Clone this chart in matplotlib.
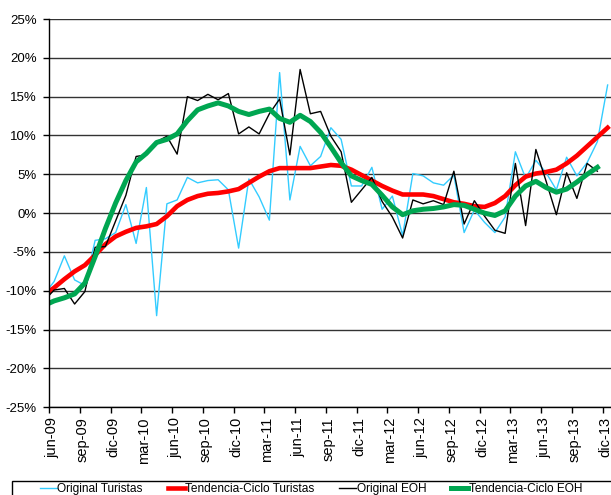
import numpy as np
import matplotlib.pyplot as plt
import matplotlib.transforms as mtransforms
from matplotlib.patches import Rectangle

plt.rcParams['font.family'] = ['Liberation Sans', 'DejaVu Sans']

tick_labels = ['jun-09', 'sep-09', 'dic-09', 'mar-10', 'jun-10', 'sep-10', 'dic-10',
               'mar-11', 'jun-11', 'sep-11', 'dic-11', 'mar-12', 'jun-12', 'sep-12',
               'dic-12', 'mar-13', 'jun-13', 'sep-13', 'dic-13']

# monthly year-on-year rates (%), first value is the month before jun-09
orig_turistas = [-10.5, -8.8, -5.5, -8.6, -9.3, -3.5, -3.3, -2.5, 1.1, -3.9, 3.3, -13.2,
                 1.2, 1.7, 4.6, 3.9, 4.2, 4.3, 3.0, -4.5, 4.4, 2.1, -0.9, 18.1, 1.7,
                 8.6, 6.1, 7.3, 11.0, 9.5, 3.5, 3.5, 5.9, 0.5, 2.2, -2.9, 5.1, 4.8, 3.9,
                 3.6, 4.9, -2.5, 0.4, -1.2, -2.5, -0.5, 7.9, 4.5, 6.8, 5.2, 3.0, 7.2,
                 4.8, 6.5, 9.2, 16.5]
tend_turistas = [-10.6, -9.6, -8.5, -7.5, -6.7, -5.4, -4.0, -3.0, -2.4, -1.9, -1.7, -1.4,
                 -0.4, 0.9, 1.7, 2.2, 2.5, 2.6, 2.8, 3.1, 3.9, 4.7, 5.4, 5.8, 5.8, 5.8,
                 5.8, 6.0, 6.2, 6.1, 5.6, 4.9, 4.2, 3.5, 2.9, 2.4, 2.4, 2.4, 2.2, 1.8,
                 1.4, 1.2, 0.9, 0.8, 1.3, 2.2, 3.6, 4.7, 5.1, 5.3, 5.6, 6.4, 7.4, 8.6,
                 9.8, 11.0]
orig_eoh = [-11.3, -9.9, -9.7, -11.7, -10.1, -4.4, -4.3, -1.0, 2.3, 7.3, 7.5, 9.2, 9.9,
            7.6, 15.0, 14.5, 15.3, 14.6, 15.4, 10.2, 11.1, 10.2, 12.8, 14.7, 7.5, 18.5,
            12.8, 13.1, 9.9, 7.9, 1.4, 3.0, 4.6, 1.5, -0.5, -3.2, 1.7, 1.2, 1.6, 1.1,
            5.4, -1.4, 1.6, -0.4, -2.2, -2.6, 6.4, -1.6, 8.2, 4.1, -0.2, 5.2, 1.9, 6.4,
            5.4]
tend_eoh = [-11.9, -11.3, -10.9, -10.4, -9.0, -5.6, -2.0, 1.3, 4.2, 6.6, 7.7, 9.1, 9.5,
            10.2, 11.9, 13.3, 13.8, 14.2, 13.8, 13.1, 12.7, 13.1, 13.4, 12.2, 11.7, 12.6,
            11.8, 10.4, 8.5, 6.5, 4.8, 4.2, 3.7, 2.3, 0.8, -0.2, 0.3, 0.5, 0.6, 0.8,
            1.1, 1.0, 0.5, 0.0, -0.3, 0.3, 2.2, 3.5, 4.1, 3.3, 2.7, 3.1, 4.0, 5.0, 5.9]

x_tur = np.arange(len(orig_turistas)) - 0.5
x_eoh = np.arange(len(orig_eoh)) - 0.5

fig = plt.figure(figsize=(6.11, 4.95), dpi=100)
ax = fig.add_axes([49/611, (495-407.3)/495, (623-49)/611, (407.3-19)/495])

l1, = ax.plot(x_tur, orig_turistas, color='#33CCFF', lw=1.0, label='Original Turistas')
l2, = ax.plot(x_tur, tend_turistas, color='#FF0000', lw=3.3, label='Tendencia-Ciclo Turistas')
l3, = ax.plot(x_eoh, orig_eoh, color='black', lw=1.0, label='Original EOH')
l4, = ax.plot(x_eoh, tend_eoh, color='#00A651', lw=3.6, label='Tendencia-Ciclo EOH')

ax.set_xlim(0, 56)
ax.set_ylim(-25, 25)
yt = np.arange(-25, 26, 5)
ax.set_yticks(yt)
ax.set_yticklabels([f'{v}%' for v in yt], fontsize=9.5)
ax.set_xticks(np.arange(0, 55, 3))
ax.set_xticklabels(tick_labels, rotation=90, fontsize=10.5)
ax.tick_params(axis='both', direction='out', length=4, width=1, color='black')
ax.tick_params(axis='y', pad=5)
ax.tick_params(axis='x', pad=3)
off = mtransforms.ScaledTranslation(3/100, 0, fig.dpi_scale_trans)
for lab in ax.get_xticklabels():
    lab.set_transform(lab.get_transform() + off)

ax.yaxis.grid(True, color='#333333', lw=1)
ax.set_axisbelow(True)
for s in ['top', 'right']:
    ax.spines[s].set_visible(False)
for s in ['left', 'bottom']:
    ax.spines[s].set_color('black')
    ax.spines[s].set_linewidth(1)

fig.add_artist(Rectangle((12/611, -0.1), 1.2, (495-481)/495 + 0.1,
                         transform=fig.transFigure, fill=False,
                         edgecolor='black', lw=1))
fig.legend(handles=[l1, l2, l3, l4], loc='upper left',
           bbox_to_anchor=(40/611, (495-483)/495), frameon=False, ncol=4,
           fontsize=8.6, borderpad=0, borderaxespad=0, handlelength=1.4,
           handletextpad=0.05, columnspacing=2.1)

fig.savefig('out.png', dpi=100)
